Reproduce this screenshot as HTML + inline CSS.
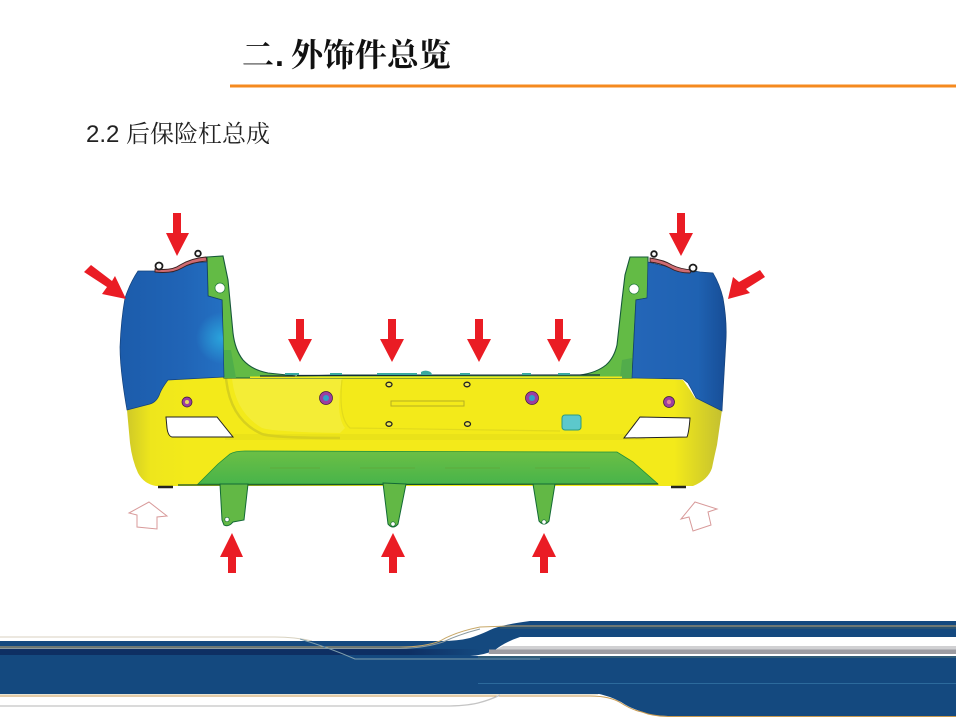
<!DOCTYPE html>
<html><head><meta charset="utf-8"><style>
html,body{margin:0;padding:0;background:#fff;width:956px;height:717px;overflow:hidden}
svg{display:block}
</style></head><body>
<svg width="956" height="717" viewBox="0 0 956 717" xmlns="http://www.w3.org/2000/svg">
<defs>
<linearGradient id="bl" x1="0" x2="1" y1="0" y2="0"><stop offset="0" stop-color="#1c5cab"/><stop offset=".6" stop-color="#2064b6"/><stop offset="1" stop-color="#2470c2"/></linearGradient>
<radialGradient id="bg" gradientUnits="userSpaceOnUse" cx="222" cy="338" r="26"><stop offset="0" stop-color="#2aa4dc"/><stop offset="1" stop-color="#2aa4dc" stop-opacity="0"/></radialGradient>
<linearGradient id="br" x1="0" x2="1" y1="0" y2="0"><stop offset="0" stop-color="#2466b8"/><stop offset=".7" stop-color="#1f62b2"/><stop offset="1" stop-color="#174d96"/></linearGradient>
<linearGradient id="yl" x1="0" x2="1" y1="0" y2="0"><stop offset="0" stop-color="#cfc928"/><stop offset=".04" stop-color="#eee61c"/><stop offset=".1" stop-color="#f3ea1a"/><stop offset=".92" stop-color="#f3ea1a"/><stop offset="1" stop-color="#c4c030"/></linearGradient>
<linearGradient id="gr" x1="0" x2="0" y1="0" y2="1"><stop offset="0" stop-color="#6cbf45"/><stop offset="1" stop-color="#48b44a"/></linearGradient>
<linearGradient id="dk" x1="0" x2="1" y1="0" y2="0"><stop offset="0" stop-color="#0e2f63"/><stop offset=".85" stop-color="#0e2f63"/><stop offset="1" stop-color="#14497f"/></linearGradient>
</defs>

<text x="242" y="66" font-family="'Liberation Serif','Noto Serif CJK SC',serif" font-weight="700" font-size="32" fill="#111">二<tspan font-family="'Liberation Sans',sans-serif" font-size="32" dx="1">.</tspan><tspan dx="7">外饰件总览</tspan></text>
<rect x="230" y="84.500" width="726" height="3" fill="#f58a1f"/>
<text x="86" y="142" font-family="'Liberation Sans','Noto Serif CJK SC',serif" font-size="24" fill="#222">2.2 后保险杠总成</text>

<!-- bumper -->
<path d="M168 380 L223 377 L632 377 L683 380 L690 390 L695 398 L722 410 L717 445 Q714 458 712 468 Q708 480 693 486 L156 486 Q144 484 138 473 Q132 460 130 443 L127 410Z" fill="url(#yl)"/>
<rect x="225" y="434" width="420" height="6" fill="#e6de1a" opacity=".7"/>
<path d="M232 378 Q235 412 262 428 Q275 432 340 433 L345 428 Q335 415 342 378Z" fill="#f6f052" opacity=".5"/>
<path d="M226 378 Q230 420 262 434 Q275 438 340 438" fill="none" stroke="#d7d01e" stroke-width="2.500"/>
<path d="M342 380 Q338 418 350 428 L560 431" fill="none" stroke="#e2da1c" stroke-width="1.200"/>

<!-- lower green -->
<path d="M198 484 L218 464 L230 454 Q235 451 245 451 L600 452 L617 452 L633 462 L658 484Z" fill="url(#gr)" stroke="#1f8f3a" stroke-width=".8"/>
<path d="M270 468 L320 468 M360 468 L415 468 M445 468 L500 468 M535 468 L590 468" stroke="#5cb040" stroke-width="1.500"/>
<path d="M178 485 L658 484" stroke="#15512a" stroke-width="1.200"/>
<path d="M158 487 H173 M671 487 H686" stroke="#222" stroke-width="2.500"/>

<!-- tabs -->
<path d="M220 484 L248 484 L244 520 L233 522 L231 524 Q227 527 224 525 L222 520Z" fill="#62b845" stroke="#136a35"/>
<circle cx="227" cy="519.500" r="2.200" fill="#fff" stroke="#136a35" stroke-width=".7"/>
<path d="M383 483 L406 484 L398 524 Q393 530 388 524Z" fill="#62b845" stroke="#136a35"/>
<circle cx="393" cy="524" r="2.200" fill="#fff" stroke="#136a35" stroke-width=".7"/>
<path d="M533 484 L555 484 L549 521 Q544 527 539 521Z" fill="#62b845" stroke="#136a35"/>
<circle cx="544" cy="522" r="2.200" fill="#fff" stroke="#136a35" stroke-width=".7"/>

<!-- upper green -->
<path d="M207 257 L223 256 L228 280 L233 333 Q235 350 243 360 Q252 370 268 373 L297 376 L340 375 L520 375 L580 375 Q596 373 606 365 Q614 358 617 345 L622 300 L625 275 L630 257 L648 257 L648 298 L636 300 L632 378 L224 378 L222 300 L208 296Z" fill="#63bb45" stroke="#17583a" stroke-width="1.100"/>
<path d="M224 350 L231 350 L236 378 L224 378Z" fill="#4fae4a"/>
<path d="M622 360 L632 358 L632 378 L620 378Z" fill="#52ac4b"/>
<rect x="250" y="376.500" width="372" height="1.500" fill="#f3ea1a"/>
<circle cx="220" cy="288" r="5" fill="#fff" stroke="#1f7a3a" stroke-width=".7"/>
<circle cx="634" cy="289" r="5" fill="#fff" stroke="#1f7a3a" stroke-width=".7"/>
<path d="M260 376 L295 376 M297 375.500 L600 375" stroke="#132c3a" stroke-width="1.300"/>
<path d="M285 373 h14 v2 h-14z M330 373 h12 v2 h-12z M377 373 h40 v2 h-40z M421 372 q3 -2 7 -1 q4 1 4 4 h-11z M460 373 h10 v2 h-10z M522 373 h9 v2 h-9z M558 373 h12 v2 h-12z" fill="#3aa8a0"/>

<!-- blue panels -->
<path d="M138 271 L155 271 L173 272 L190 263 L207 262 L208 296 L222 300 L224 377 L168 380 Q162 388 160 393 Q157 402 150 404 L127 410 Q120 370 120 347 Q121 320 125 298 Q130 283 138 271Z" fill="url(#bl)" stroke="#14417a" stroke-width=".7"/>
<path d="M190 312 L222 312 L224 365 L195 365Z" fill="url(#bg)"/>
<path d="M648 262 L660 265 L677 268 L700 272 L713 273 Q720 285 723 298 Q727 320 726 340 L722 411 L696 398 Q692 390 688 383 L683 379 L632 378 L636 300 L647 298Z" fill="url(#br)" stroke="#14417a" stroke-width=".7"/>

<!-- top strips and clips -->
<path d="M155 269 Q172 271 180 265 Q192 258 206 257 L207 261 Q192 262 182 268 Q172 274 155 272Z" fill="#cf6b72" stroke="#3a2020" stroke-width=".9"/>
<path d="M650 258 Q664 260 672 265 Q680 269 692 270 L690 273 Q678 273 670 268 Q660 263 650 262Z" fill="#cf6b72" stroke="#3a2020" stroke-width=".9"/>
<g fill="#fff" stroke="#1c1c1c" stroke-width="1.800"><circle cx="159" cy="266" r="3.500"/><circle cx="198" cy="253.500" r="2.800"/><circle cx="654" cy="254" r="2.800"/><circle cx="693" cy="268" r="3.500"/></g>

<!-- windows -->
<path d="M166 417 L217 417 L233 437 L172 437 Q168 436 167 428Z" fill="#fff" stroke="#222" stroke-width="1"/>
<path d="M640 417 L690 418 Q689 432 687 437 L624 438Z" fill="#fff" stroke="#222" stroke-width="1"/>

<!-- plate -->
<rect x="391" y="401" width="73" height="5" fill="none" stroke="#b5ae22" stroke-width="1"/>
<rect x="562" y="415" width="19" height="15" rx="3" fill="#5cc8cc" stroke="#2c9a80" stroke-width="1"/>

<!-- bolts -->
<g fill="#9c3ea0" stroke="#3a1a40" stroke-width=".7">
<circle cx="187" cy="402" r="5"/><circle cx="326" cy="398" r="6.500"/><circle cx="532" cy="398" r="6.500"/><circle cx="669" cy="402" r="5.500"/></g>
<circle cx="187" cy="402" r="2" fill="#e8d860"/><circle cx="326" cy="398" r="3" fill="#30a0c8"/><circle cx="532" cy="398" r="3" fill="#30a0c8"/><circle cx="669" cy="402" r="2.200" fill="#e08098"/>
<g fill="#f3ea50" stroke="#222" stroke-width="1.300">
<ellipse cx="389" cy="384.500" rx="3" ry="2.300"/><ellipse cx="467" cy="384.500" rx="3" ry="2.300"/><ellipse cx="389" cy="424" rx="3" ry="2.300"/><ellipse cx="467.500" cy="424" rx="3" ry="2.300"/></g>

<!-- red arrows -->
<g fill="#ea1c24">
<path d="M173 213H181V233H189L177 256 166 233H173Z"/>
<path d="M677 213H685V233H693L681 256 669 233H677Z"/>
<path d="M296 319H304V339H312L300 362 288 339H296Z"/>
<path d="M388 319H396V339H404L392 362 380 339H388Z"/>
<path d="M475 319H483V339H491L479 362 467 339H475Z"/>
<path d="M555 319H563V339H571L559 362 547 339H555Z"/>
<path d="M232 533L243 557H236V573H228V557H220Z"/>
<path d="M393 533L405 557H397V573H389V557H381Z"/>
<path d="M544 533L556 557H548V573H540V557H532Z"/>
<path d="M91 265L112 281 115 276 126 299 102 294 107 287 84 272Z"/>
<path d="M760 270L765 277 746 289 750 293 728 299 733 277 739 282Z"/>
</g>
<path d="M149 502L129 513 137 515 137 527 157 529 157 517 167 516Z" fill="#fff" stroke="#d89a9a" stroke-width="1"/>
<path d="M695 502L717 509 708 512 711 525 693 531 689 517 681 519Z" fill="#fff" stroke="#d89a9a" stroke-width="1"/>

<!-- footer -->
<path d="M0 637H275Q295 637 312 641" fill="none" stroke="#d8d2c0" stroke-width="1"/>
<path d="M0 641H440Q458 641 470 638Q482 634 490 630Q500 625 530 621H956V694H0Z" fill="#14497f"/>
<rect x="0" y="649" width="480" height="6" fill="url(#dk)"/>
<path d="M470 656Q485 655 495 650Q505 642 520 637H956V656Z" fill="#fff"/>
<path d="M497 649L503 646H956V654H487Q493 652 497 649Z" fill="#d0d0d2"/>
<rect x="489" y="649.500" width="467" height="4.500" fill="#9c9ca2"/>
<rect x="478" y="656" width="478" height="2" fill="#2f5c78"/>
<rect x="478" y="683" width="478" height="1" fill="#2c6a9c"/>
<path d="M0 647H400Q425 647 440 641Q455 632 480 627L510 626H956" fill="none" stroke="#c8a868" stroke-width="1"/>
<path d="M0 648.500H400Q425 648 443 642Q460 634 480 629" fill="none" stroke="#8a9aa0" stroke-width="1"/>
<path d="M500 628H956" stroke="#3a5a68" stroke-width="1"/>
<path d="M300 639Q330 648 355 659H540" fill="none" stroke="#7e9eac" stroke-width="1"/>
<path d="M595 693Q610 696 621 702Q630 708 640 711Q650 716 668 716H956V693Z" fill="#14497f"/>
<path d="M0 696H590Q610 696 621 703Q632 710 642 712Q652 716 668 716.500H956" fill="none" stroke="#c89a50" stroke-width="1"/>
<path d="M0 694.500H598" stroke="#e8e4d4" stroke-width="1"/>
<path d="M0 706H445Q465 706 478 703Q490 700 500 695" fill="none" stroke="#c4c4c4" stroke-width="1.300"/>
</svg>
</body></html>
